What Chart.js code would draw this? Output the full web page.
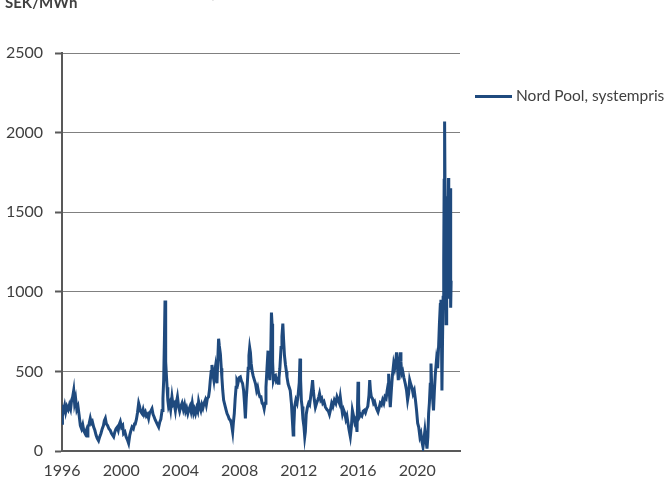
<!DOCTYPE html>
<html>
<head>
<meta charset="utf-8">
<script src="https://cdn.jsdelivr.net/npm/chart.js@4/dist/chart.umd.min.js"></script>
<style>
  html, body { margin:0; padding:0; background:#fff; overflow:hidden; }
  #wrap { position:relative; width:671px; height:486px; overflow:hidden; }
  #c { position:absolute; left:0; top:0; }
  .t { position:absolute; white-space:nowrap; font-family: Lato, "Open Sans", sans-serif; }
</style>
</head>
<body>
<div id="wrap">
  <canvas id="c" width="671" height="486"></canvas>
  <div class="t" id="unit" style="left:5px; top:-8px; font-size:15px; line-height:20px; font-weight:bold; color:#404040;">SEK/MWh</div>
  <div class="t" id="cap" style="left:148px; top:-15px; font-size:14px; line-height:18px; color:#a6a6a6;">Veckodata, Nord Pool</div>
  <div id="legLine" style="position:absolute; left:475px; top:95px; width:37px; height:3px; background:#1f4a7e;"></div>
  <div class="t" id="legText" style="left:516px; top:86px; font-size:15.5px; line-height:19px; color:#404040;">Nord Pool, systempris</div>
</div>
<script>
// ---- data (decimal year, SEK/MWh) ----
const years = [
1996.00,1996.03,1996.10,1996.18,1996.25,1996.33,1996.42,1996.50,1996.58,1996.65,1996.72,1996.79,1996.85,1996.92,
1997.00,1997.08,1997.15,1997.24,1997.32,1997.40,1997.48,1997.56,1997.64,1997.69,1997.75,1997.83,1997.91,1997.98,
1998.05,1998.14,1998.22,1998.30,1998.38,1998.47,1998.55,1998.63,1998.72,1998.80,1998.86,1998.93,
1999.00,1999.08,1999.17,1999.26,1999.35,1999.42,1999.49,1999.57,1999.65,1999.73,1999.80,1999.88,1999.94,
2000.02,2000.10,2000.16,2000.25,2000.33,2000.42,2000.50,2000.58,2000.66,2000.73,2000.82,2000.90,2000.95,
2001.03,2001.10,2001.18,2001.24,2001.30,2001.41,2001.48,2001.55,2001.63,2001.70,2001.78,2001.85,2001.92,
2002.00,2002.08,2002.15,2002.22,2002.30,2002.38,2002.45,2002.53,2002.60,2002.68,2002.76,2002.82,2002.87,2002.92,2002.96,2002.99,
2003.02,2003.06,2003.10,2003.15,2003.20,2003.27,2003.34,2003.43,2003.50,2003.58,2003.66,2003.72,2003.80,2003.88,2003.95,
2004.03,2004.11,2004.20,2004.28,2004.35,2004.42,2004.50,2004.57,2004.65,2004.72,2004.80,2004.89,2004.95,
2005.02,2005.10,2005.17,2005.23,2005.30,2005.38,2005.45,2005.52,2005.60,2005.68,2005.75,2005.82,2005.90,2005.96,
2006.02,2006.08,2006.13,2006.20,2006.26,2006.32,2006.36,2006.42,2006.47,2006.52,2006.58,2006.63,2006.70,2006.76,2006.80,2006.86,2006.92,
2007.00,2007.08,2007.15,2007.23,2007.30,2007.37,2007.45,2007.53,2007.58,2007.64,2007.70,2007.76,2007.82,2007.90,2007.97,
2008.05,2008.12,2008.20,2008.27,2008.33,2008.39,2008.45,2008.52,2008.58,2008.63,2008.68,2008.73,2008.78,2008.85,2008.92,
2009.00,2009.08,2009.15,2009.22,2009.30,2009.37,2009.44,2009.52,2009.60,2009.66,2009.72,2009.78,2009.85,2009.92,2009.98,
2010.04,2010.10,2010.15,2010.19,2010.23,2010.28,2010.35,2010.42,2010.48,2010.55,2010.60,2010.66,2010.72,2010.80,2010.86,2010.92,2010.97,
2011.03,2011.10,2011.16,2011.20,2011.28,2011.35,2011.42,2011.50,2011.56,2011.62,2011.66,2011.72,2011.80,2011.88,2011.95,
2012.03,2012.08,2012.12,2012.17,2012.22,2012.28,2012.35,2012.40,2012.44,2012.50,2012.58,2012.66,2012.73,2012.80,2012.88,2012.93,2012.98,
2013.05,2013.12,2013.20,2013.28,2013.35,2013.40,2013.48,2013.55,2013.62,2013.70,2013.80,2013.90,
2014.00,2014.07,2014.13,2014.22,2014.30,2014.40,2014.50,2014.58,2014.66,2014.74,2014.80,2014.88,2014.95,
2015.02,2015.10,2015.18,2015.25,2015.33,2015.40,2015.48,2015.55,2015.62,2015.70,2015.78,2015.86,2015.93,2015.97,
2016.00,2016.04,2016.10,2016.18,2016.26,2016.35,2016.42,2016.50,2016.58,2016.66,2016.74,2016.79,2016.84,2016.90,2016.97,
2017.05,2017.12,2017.20,2017.28,2017.35,2017.42,2017.50,2017.58,2017.66,2017.74,2017.82,2017.90,2017.97,
2018.04,2018.07,2018.12,2018.18,2018.25,2018.32,2018.41,2018.48,2018.55,2018.60,2018.66,2018.72,2018.78,2018.85,2018.90,2018.95,
2019.02,2019.10,2019.20,2019.28,2019.35,2019.42,2019.49,2019.56,2019.64,2019.72,2019.80,2019.88,2019.95,
2020.03,2020.10,2020.18,2020.25,2020.32,2020.39,2020.45,2020.52,2020.58,2020.66,2020.72,2020.77,2020.82,2020.88,2020.93,2020.98,
2021.04,2021.10,2021.16,2021.22,2021.30,2021.38,2021.45,2021.50,2021.56,2021.60,2021.64,2021.67,2021.71,2021.75,2021.79,2021.82,2021.85,2021.88,2021.91,2021.95,2021.99,
2022.03,2022.07,2022.11,2022.13,2022.15,2022.18,2022.20,2022.22,2022.25,2022.27,2022.29
];
const prices = [
175,290,250,285,245,280,260,290,265,320,340,380,300,330,
260,280,230,160,140,165,125,110,130,95,150,170,205,175,
185,150,130,100,80,65,90,110,140,160,190,205,
170,160,140,130,110,100,90,120,140,150,130,170,185,
150,160,110,120,90,70,48,100,130,150,140,170,170,
200,240,300,280,250,235,260,230,245,220,230,205,240,
250,265,230,215,195,180,165,150,180,200,255,330,445,700,945,850,
560,465,400,320,280,300,260,340,290,300,255,300,340,280,250,
280,300,260,290,250,270,235,260,280,250,300,240,260,
235,270,250,310,280,255,290,270,300,320,290,330,340,380,
445,500,540,480,445,500,525,460,425,560,705,660,610,520,465,380,320,
290,260,235,220,200,195,170,120,180,235,330,400,445,430,460,
465,440,425,380,300,205,330,425,520,600,650,620,550,500,470,
445,420,380,400,360,340,340,300,290,265,300,400,520,630,500,
445,600,870,800,560,445,470,475,440,450,425,460,520,650,720,800,700,
600,540,500,465,420,400,380,300,200,100,150,280,320,300,350,
430,580,450,320,280,200,150,90,120,230,275,300,290,340,400,445,380,
320,275,300,320,340,360,320,330,300,310,275,260,
250,230,255,300,280,320,300,340,320,300,340,280,235,
260,240,200,220,170,130,90,150,255,220,180,200,120,300,
435,300,215,230,220,250,255,240,265,280,350,445,380,340,330,
300,310,280,260,245,270,300,290,320,300,340,330,380,
420,485,360,275,380,470,550,520,560,620,540,445,520,620,560,485,
500,460,420,380,320,360,445,420,400,360,380,320,260,
175,150,90,110,60,25,70,130,80,15,90,235,300,420,550,400,
330,255,380,480,570,520,670,800,920,950,700,380,700,965,1200,1700,2070,1600,1300,800,1100,
965,1300,1715,1100,1400,1050,1500,1300,1650,900,1070
];
const xTickYears = [1996, 2000, 2004, 2008, 2012, 2016, 2020];
const yTicks = [0, 500, 1000, 1500, 2000, 2500];

const points = years.map((y, i) => ({ x: y, y: prices[i] }));

const axisFont = { family: 'Lato, "Open Sans", sans-serif', size: 16 };
const textCol = '#404040';

new Chart(document.getElementById('c'), {
  type: 'line',
  data: {
    datasets: [{
      label: 'Nord Pool, systempris',
      data: points,
      borderColor: '#1f4a7e',
      borderWidth: 3,
      pointRadius: 0,
      tension: 0,
      fill: false
    }]
  },
  options: {
    responsive: false,
    animation: false,
    events: [],
    layout: { padding: { top: 53, right: 211, bottom: 0, left: 0 } },
    plugins: { legend: { display: false }, tooltip: { enabled: false }, title: { display: false } },
    scales: {
      x: {
        type: 'linear',
        min: 1996,
        max: 2022.89,
        afterBuildTicks: (s) => { s.ticks = xTickYears.map(v => ({ value: v })); },
        afterFit: (s) => { s.height = 35; },
        grid: { display: false, drawTicks: false },
        border: { display: true, color: '#595959', width: 2 },
        ticks: { font: axisFont, color: textCol, padding: 10, maxRotation: 0, autoSkip: false,
                 callback: (v) => String(v) }
      },
      y: {
        min: 0,
        max: 2500,
        afterBuildTicks: (s) => { s.ticks = yTicks.map(v => ({ value: v })); },
        afterFit: (s) => { s.width = 62; },
        grid: { color: '#808080', lineWidth: 1, drawTicks: true, tickLength: 7, tickColor: '#595959', tickWidth: 2 },
        border: { display: true, color: '#595959', width: 2 },
        ticks: { font: axisFont, color: textCol, padding: 12, callback: (v) => String(v) }
      }
    }
  }
});
</script>
</body>
</html>
